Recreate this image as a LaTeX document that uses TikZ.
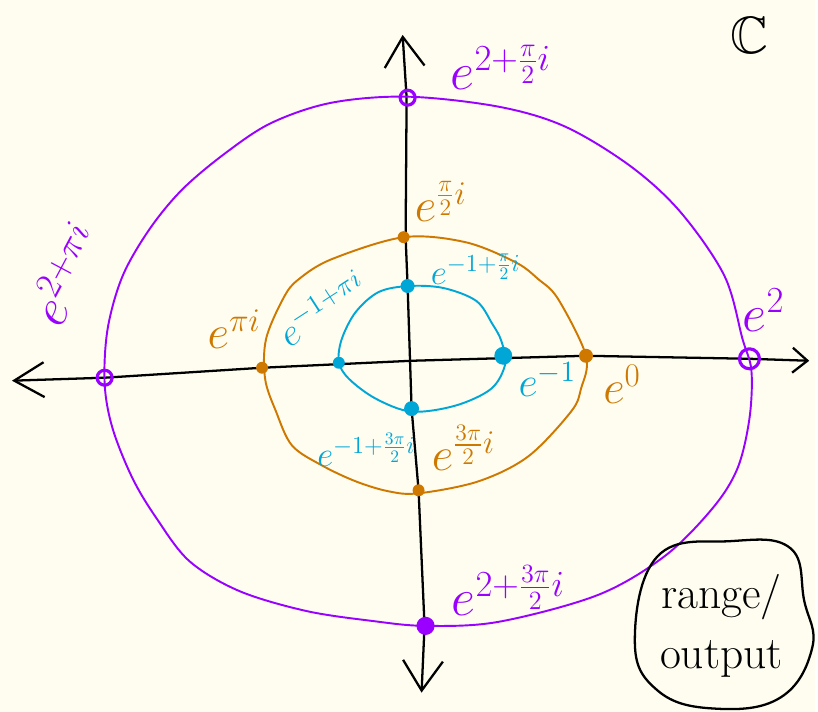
\RequirePackage{fix-cm}
\documentclass[tikz,border=0pt]{standalone}
\usepackage{amssymb}
\usetikzlibrary{arrows.meta}
\definecolor{paper}{RGB}{254,253,240}
\definecolor{plum}{RGB}{153,0,255}
\definecolor{amber}{RGB}{206,120,0}
\definecolor{sky}{RGB}{0,166,214}
\begin{document}
\begin{tikzpicture}[x=0.02cm, y=-0.02cm, line cap=round, line join=round,
    >={Straight Barb[length=6mm,width=8mm]},
    axis/.style={line width=1.3pt},
    curve/.style={line width=1.1pt},
    lab/.style={font=\fontsize{30}{30}\selectfont, inner sep=0pt, anchor=base west},
    labO/.style={lab, amber, font=\fontsize{27}{27}\selectfont},
    labB/.style={lab, sky, font=\fontsize{20}{20}\selectfont},
    fdot/.style={circle, inner sep=0pt, minimum size=0.24cm, fill=#1},
    ring/.style={circle, inner sep=0pt, minimum size=0.3cm, draw=#1, line width=1.8pt}]

    \fill[paper] (0,0) rectangle (818,714);

    % axes
    \coordinate (xl) at (12,382);
    \coordinate (xr) at (812,362);
    \coordinate (yt) at (404,35);
    \coordinate (yb) at (423,695);
    \draw[axis, {Straight Barb[length=6mm,width=7mm]}-{Straight Barb[length=3mm,width=5mm]}]
        (xl) -- (105,379) -- (263,369) -- (413,362) -- (588,357) -- (752,360) -- (xr);
    \draw[axis, <->] (yt) -- (408,98) -- (407,238) -- (409,287) -- (413,410) -- (420,492) -- (426,628) -- (yb);

    % image curves
    \draw[curve, plum] plot[smooth cycle, tension=0.55] coordinates {(409,97) (500,107) (567,127) (633,167)
        (683,213) (727,277) (745,340) (754,372) (752,420) (740,470) (715,510) (667,558) (600,597)
        (500,624) (427,628) (373,623) (307,613) (240,593) (190,563) (157,520) (133,480) (113,430)
        (105,385) (108,330) (123,277) (150,230) (183,190) (227,153) (273,123) (333,103)};
    \draw[curve, amber] plot[smooth cycle, tension=0.55] coordinates {(405,238) (467,243) (517,263) (540,280)
        (560,300) (588,357) (583,390) (573,413) (530,458) (480,483) (420,495) (390,493) (357,483)
        (323,467) (293,447) (277,413) (266,380) (267,340) (285,298) (300,280) (333,260)};
    \draw[curve, sky] plot[smooth cycle, tension=0.55] coordinates {(410,287) (445,289) (478,302) (494,325)
        (503,342) (507,365) (493,390) (457,407) (413,413) (377,400) (350,380) (340,363) (343,340)
        (357,313) (380,293)};

    % points
    \node (pTop) [ring=plum] at (409,98) {};
    \node (pLeft) [ring=plum] at (105,379) {};
    \node (pRight) [ring=plum, minimum size=0.4cm] at (752,360) {};
    \node (pBot) [ring=plum, fill=plum] at (427,628) {};
    \node (oTop) [fdot=amber] at (405,238) {};
    \node (oLeft) [fdot=amber] at (263,369) {};
    \node (oRight) [fdot=amber, minimum size=0.28cm] at (588,357) {};
    \node (oBot) [fdot=amber] at (420,492) {};
    \node (bTop) [fdot=sky, minimum size=0.28cm] at (409,287) {};
    \node (bLeft) [fdot=sky] at (340,364) {};
    \node (bRight) [fdot=sky, minimum size=0.36cm] at (505,357) {};
    \node (bBot) [fdot=sky, minimum size=0.3cm] at (413,410) {};

    % labels
    \node (lpTop) [lab, plum] at (452,90) {$e^{2+\frac{\pi}{2}i}$};
    \node (lpRight) [lab, plum] at (745,333) {$e^{2}$};
    \node (lpBot) [lab, plum] at (453,618) {$e^{2+\frac{3\pi}{2}i}$};
    \node (lpLeft) [lab, plum, anchor=center, rotate=62] at (66,275) {$e^{2+\pi i}$};
    \node (loTop) [labO] at (416,222) {$e^{\frac{\pi}{2}i}$};
    \node (loLeft) [labO] at (208,350) {$e^{\pi i}$};
    \node (loRight) [labO] at (605,405) {$e^{0}$};
    \node (loBot) [labO] at (433,472) {$e^{\frac{3\pi}{2}i}$};
    \node (lbLeft) [labB, font=\fontsize{22}{22}\selectfont, rotate=33] at (290,350) {$e^{-1+\pi i}$};
    \node (lbTop) [labB] at (432,285) {$e^{-1+\frac{\pi}{2}i}$};
    \node (lbRight) [labB, font=\fontsize{24}{24}\selectfont] at (520,398) {$e^{-1}$};
    \node (lbBot) [labB] at (318,468) {$e^{-1+\frac{3\pi}{2}i}$};
    \node (plane) [font=\fontsize{30}{30}\selectfont] at (752,36) {$\mathbb{C}$};

    % range / output blob
    \draw[axis] plot[smooth cycle, tension=0.7] coordinates {(660,558) (733,543) (793,550) (807,603)
        (815,650) (783,700) (717,711) (660,693) (637,643)};
    \node (range) [font=\fontsize{26}{34}\selectfont, align=center] at (724,628) {range/\\output};
\end{tikzpicture}
\end{document}
